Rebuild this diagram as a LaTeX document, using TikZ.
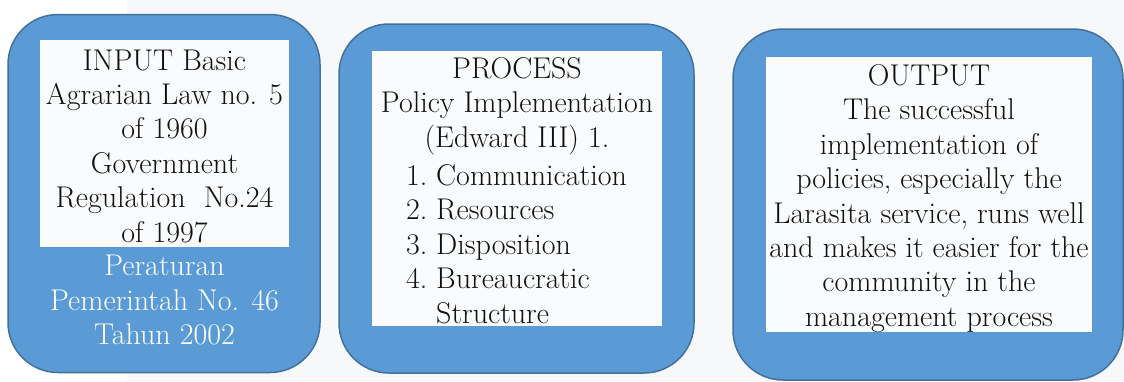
\documentclass[tikz,border=0pt]{standalone}
\definecolor{boxblue}{HTML}{5B9BD5}
\definecolor{boxedge}{HTML}{41719C}
\definecolor{panel}{HTML}{FAFBFC}
\definecolor{pagegray}{HTML}{F7F8FA}
\definecolor{ink}{HTML}{111111}
\begin{document}
\begin{tikzpicture}[x=1pt,y=1pt,
  outerbox/.style={draw=boxedge, line width=1.5pt, fill=boxblue,
    rounded corners=50pt, inner sep=0pt},
  innerbox/.style={fill=panel, inner sep=0pt},
  body/.style={font=\fontsize{30}{34.4}\selectfont, inner sep=0pt, text=ink}
]
\useasboundingbox (0,0) rectangle (1124,-381);
\fill[white] (0,0) rectangle (1124,-381);
\fill[pagegray] (127,0) rectangle (1124,-381);

% INPUT
\node[outerbox, minimum width=312pt, minimum height=358pt] (inbox) at (164,-193.5) {};
\node[innerbox, minimum width=249pt, minimum height=207pt] (inpanel) at (164.5,-143.5) {};
\node[body, align=center] (intext) at (164.5,-146)
  {INPUT Basic\\Agrarian Law no. 5\\of 1960\\Government\\Regulation\ \ No.24\\of 1997};
\node[body, align=center, text=white] (innote) at (164.5,-300)
  {Peraturan\\Pemerintah No. 46\\Tahun 2002};

% PROCESS
\node[outerbox, minimum width=355pt, minimum height=349pt] (procbox) at (516.5,-198.5) {};
\node[innerbox, minimum width=290pt, minimum height=275pt] (procpanel) at (517,-188.5) {};
\node[body, align=center] (prochead) at (517,-106)
  {PROCESS\\Policy Implementation\\(Edward III) 1.};
\node[body, align=left, anchor=west] (proclist) at (406,-244)
  {\makebox[30pt][l]{1.}Communication\\
   \makebox[30pt][l]{2.}Resources\\
   \makebox[30pt][l]{3.}Disposition\\
   \makebox[30pt][l]{4.}Bureaucratic\\
   \makebox[30pt][l]{}Structure};

% OUTPUT
\node[outerbox, minimum width=390pt, minimum height=351pt] (outbox) at (928,-204.5) {};
\node[innerbox, minimum width=326pt, minimum height=275pt] (outpanel) at (929,-194.5) {};
\node[body, align=center] (outtext) at (929,-198.5)
  {OUTPUT\\The successful\\implementation of\\policies, especially the\\Larasita service, runs well\\and makes it easier for the\\community in the\\management process};
\end{tikzpicture}
\end{document}
